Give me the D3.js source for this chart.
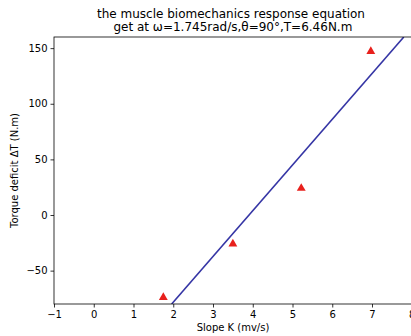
<!DOCTYPE html>
<html><head><meta charset="utf-8">
<script src="https://cdn.jsdelivr.net/npm/d3@7"></script>
<style>body{margin:0;background:#fff}svg{display:block}text{font-family:"DejaVu Sans",sans-serif}</style>
</head><body>
<script>
const slopeK = [1.75, 3.5, 5.22, 6.97];
const torqueDeficit = [-74, -26, 24, 147];
const fitK = [1.96, 7.8];
const fitT = [-80, 160];
const xTicks = [-1, 0, 1, 2, 3, 4, 5, 6, 7, 8];
const yTicks = [-50, 0, 50, 100, 150];
const titleLines = ["the muscle biomechanics response equation", " get at \u03c9=1.745rad/s,\u03b8=90\u00b0,T=6.46N.m"];

(function () {
const W = 411, H = 336;
const mLeft = 54, mTop = 37, mBottom = 304;
const svg = d3.select("body").append("svg").attr("width", W).attr("height", H);
const x = d3.scaleLinear().domain([-1, 8.2]).range([mLeft, mLeft + 9.2 * 39.75]);
const y = d3.scaleLinear().domain([-80, 160]).range([mBottom, mTop]);
const mRight = x.range()[1];

svg.append("clipPath").attr("id", "c").append("rect")
  .attr("x", mLeft).attr("y", mTop).attr("width", mRight - mLeft).attr("height", mBottom - mTop);

const g = svg.append("g").attr("clip-path", "url(#c)");
g.append("line")
  .attr("x1", x(fitK[0])).attr("y1", y(fitT[0]))
  .attr("x2", x(fitK[1])).attr("y2", y(fitT[1]))
  .attr("stroke", "#3535a5").attr("stroke-width", 1.6);

const tri = d3.symbol().type(d3.symbolTriangle).size(34);
g.selectAll("path.pt").data(slopeK).join("path")
  .attr("class", "pt")
  .attr("transform", (d, i) => `translate(${x(d)},${y(torqueDeficit[i])})`)
  .attr("d", tri).attr("fill", "#e8201c");

const xAxis = d3.axisBottom(x).tickValues(xTicks).tickSize(3.5).tickPadding(3);
const yAxis = d3.axisLeft(y).tickValues(yTicks).tickSize(3.5).tickPadding(3);
const xa = svg.append("g").attr("transform", `translate(0,${mBottom})`).call(xAxis);
const ya = svg.append("g").attr("transform", `translate(${mLeft},0)`).call(yAxis);
[xa, ya].forEach(a => {
  a.select(".domain").remove();
  a.selectAll("text").attr("font-size", 10).attr("fill", "#000").style("font-family", "DejaVu Sans");
  a.selectAll("line").attr("stroke", "#000").attr("stroke-width", 0.8);
});
svg.append("rect").attr("x", mLeft).attr("y", mTop).attr("width", mRight - mLeft).attr("height", mBottom - mTop)
  .attr("fill", "none").attr("stroke", "#000").attr("stroke-width", 0.8);

svg.append("text").attr("x", 233).attr("y", 331).attr("text-anchor", "middle")
  .attr("font-size", 10).text("Slope K (mv/s)");
svg.append("text").attr("transform", `translate(18,${(mTop + mBottom) / 2}) rotate(-90)`)
  .attr("text-anchor", "middle").attr("font-size", 10).text("Torque deficit \u0394T (N.m)");

svg.append("text").attr("text-anchor", "middle").attr("font-size", 12)
  .selectAll("tspan").data(titleLines).join("tspan")
  .attr("x", 231).attr("y", (d, i) => 18 + i * 13).style("white-space", "pre").text(d => d);
})();
</script>
</body></html>
